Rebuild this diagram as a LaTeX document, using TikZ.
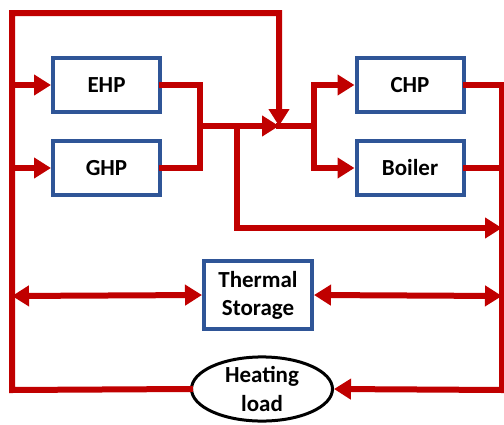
\documentclass[tikz,border=0pt]{standalone}
\usepackage{fontspec}
\setmainfont{Carlito}
\usetikzlibrary{arrows.meta,shapes.geometric}
\definecolor{pipe}{HTML}{C00000}
\definecolor{boxblue}{HTML}{2F5597}
\begin{document}
\begin{tikzpicture}[x=1pt,y=-1pt,
  unit/.style={draw=boxblue,line width=4pt,fill=white,minimum width=107pt,minimum height=54pt,inner sep=0pt,font=\bfseries\fontsize{23}{28}\selectfont,align=center},
  loadnode/.style={ellipse,draw=black,line width=3pt,fill=white,minimum width=141pt,minimum height=63pt,inner sep=0pt,font=\bfseries\fontsize{23}{29}\selectfont,align=center},
  flow/.style={draw=pipe,line width=6pt,line join=miter,line cap=rect},
  tipped/.style={-{Triangle[length=17pt,width=20pt]}},
  twotip/.style={{Triangle[length=17pt,width=20pt]}-{Triangle[length=17pt,width=20pt]}}]
\useasboundingbox (0,0) rectangle (504,424);
% nodes
\node[unit] (EHP) at (106.5,85) {EHP};
\node[unit] (GHP) at (106.5,168) {GHP};
\node[unit] (CHP) at (410,85) {CHP};
\node[unit] (Boiler) at (410,168) {Boiler};
\node[unit,minimum width=108pt,minimum height=68pt] (TS) at (258,295) {Thermal\\Storage};
\node[loadnode] (HL) at (262,389) {Heating\\load};
% coordinates
\coordinate (L) at (12,13);
\coordinate (Lb) at (12,390);
\coordinate (T) at (279,13);
\coordinate (R) at (502,85);
\coordinate (Rb) at (502,390);
\coordinate (J1) at (200,126);
\coordinate (J2) at (279,126);
\coordinate (J3) at (314,126);
\coordinate (J4) at (237,126);
\coordinate (B1) at (237,228);
\coordinate (B2) at (502,228);
\coordinate (S1) at (12,296);
\coordinate (S2) at (502,296);
\coordinate (E1) at (12,85);
\coordinate (E2) at (12,168);
% left main loop
\draw[flow,tipped] (HL.west) -- (Lb) -- (L) -- (T) -- (J2);
\draw[flow,tipped] (E1) -- (EHP.west);
\draw[flow,tipped] (E2) -- (GHP.west);
% outputs EHP/GHP
\draw[flow] (EHP.east) -- (200,85) -- (200,168) -- (GHP.east);
\draw[flow,tipped] (J1) -- (J2);
\draw[flow] (J2) -- (J3);
\draw[flow,tipped] (J3) |- (CHP.west);
\draw[flow,tipped] (J3) |- (Boiler.west);
% bypass
\draw[flow,tipped] (J4) -- (B1) -- (B2);
% CHP/Boiler outputs
\draw[flow] (CHP.east) -- (R) -- (Rb);
\draw[flow] (Boiler.east) -- (502,168);
\draw[flow,tipped] (Rb) -- (HL.east);
% storage
\draw[flow,twotip] (S1) -- (TS.west);
\draw[flow,twotip] (TS.east) -- (S2);
\end{tikzpicture}
\end{document}
